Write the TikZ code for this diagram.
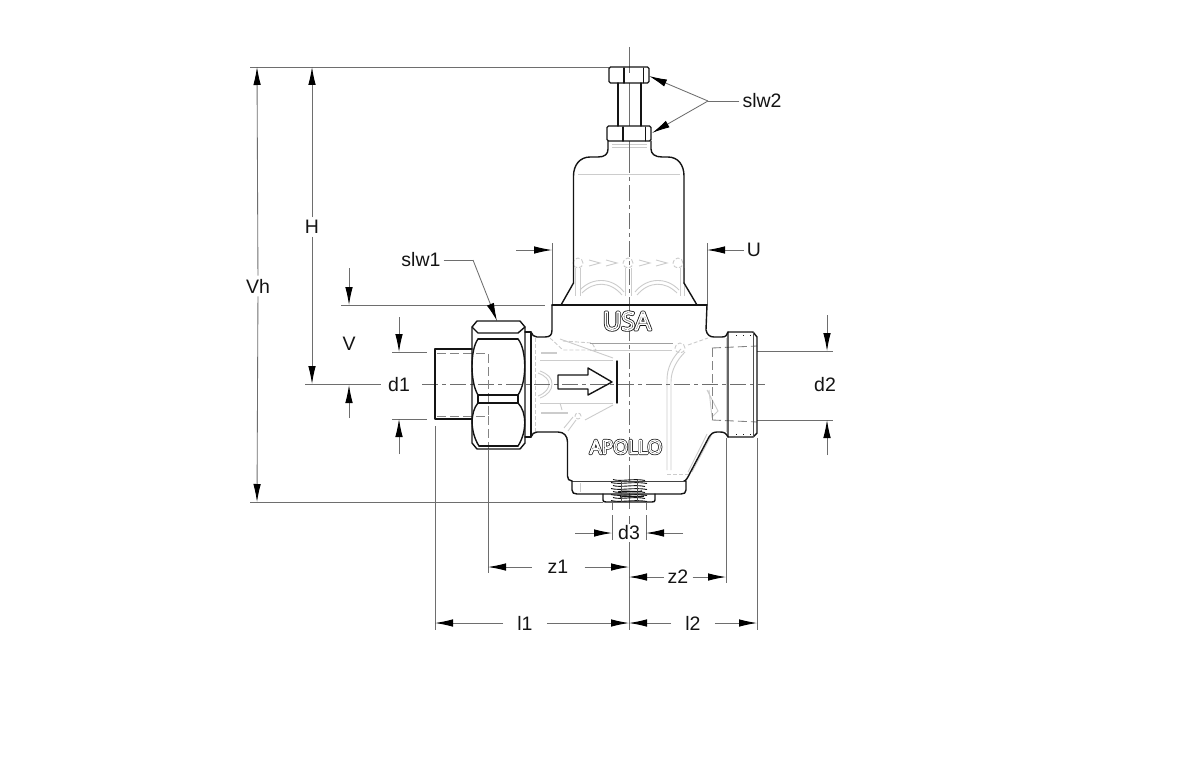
\documentclass[tikz,border=0pt]{standalone}
\usepackage{fontspec}
\setmainfont{Liberation Sans}
\newfontfamily\embfont{Open Sans}
\usetikzlibrary{arrows.meta}
\definecolor{dimc}{HTML}{6E6E6E}
\definecolor{embc}{HTML}{CCCCCC}
\definecolor{embdark}{HTML}{A0A0A0}
\definecolor{inkc}{HTML}{141414}
\newcommand{\outlinetext}[3]{\special{pdf:code q #1 w 1 Tr 1 j}\textcolor{#2}{#3}\special{pdf:code Q}}
\tikzset{
  x=1pt,y=-1pt,
  every node/.style={font=\fontsize{19.5}{22}\selectfont,text=inkc,inner sep=3pt},
  ink/.style={draw=inkc,line width=1.4pt,line join=round,line cap=round},
  thin ink/.style={draw=inkc!75,line width=.8pt},
  ext/.style={draw=dimc,line width=.85pt},
  dimarrow/.style={draw=dimc,line width=.85pt,-{Latex[length=18pt,width=7.5pt,color=black]}},
  center line/.style={draw=dimc,line width=.9pt,dash pattern=on 16pt off 4pt on 4pt off 4pt},
  hidden line/.style={draw=dimc!85,line width=.85pt,dash pattern=on 9pt off 4pt},
  emb/.style={draw=embc,line width=.9pt},
  embd/.style={draw=embc,line width=.9pt,dash pattern=on 4pt off 2pt},
  thread/.style={draw=inkc,line width=.9pt},
}
\begin{document}
\begin{tikzpicture}
\useasboundingbox (0,0) rectangle (1200,776);
\fill[white] (0,0) rectangle (1200,776);

% ---------- embossed grey detail
 % bonnet
 \draw[emb] (578,174) -- (680,174);
 \draw[emb] (612,144) -- (647,144) (612,147) -- (647,147);
 \foreach \cx in {578,628,678}{\draw[embd] (\cx,263) circle (5pt);}
 \foreach \a/\b in {589/600,606/617,639/650,656/667}{
   \draw[emb] (\a,260) -- (\b,263) -- (\a,266);}
 \draw[emb] (580,290) .. controls (592,277) and (612,277) .. (624,292);
 \draw[emb] (582,293) .. controls (594,281) and (610,281) .. (622,295);
 \draw[emb] (635,292) .. controls (647,277) and (667,277) .. (679,290);
 \draw[emb] (637,295) .. controls (649,281) and (665,281) .. (677,293);
 \foreach \vx in {575.5,580,625,631,680,684}{\draw[emb] (\vx,268) -- (\vx,296);}
 % body, left part
 \draw[embd] (535,338) -- (535,432);
 \draw[emb] (560,339) -- (613,358);
 \draw[embd] (550,338) -- (563,350) -- (596,350) -- (592,343) -- (563,341);
 \draw[emb,line width=2pt] (541,353) -- (557,353);
 \draw[emb] (540,360) -- (613,360);
 \draw[emb] (540,371) .. controls (548,374) and (552,378) .. (552,384) .. controls (552,390) and (548,395) .. (540,398);
 \draw[emb] (538,373) .. controls (546,376) and (549,380) .. (549,384) .. controls (549,388) and (546,393) .. (538,396);
 \draw[emb] (540,403) -- (613,403);
 \draw[emb,line width=2pt] (541,413) -- (568,413);
 \draw[emb] (560,403) -- (562,410);
 \draw[emb] (613,405) -- (585,420);
 \draw[embd] (578,416) circle (3pt);
 \draw[emb] (573,417) -- (564,428) (576,420) -- (568,431);
 % body, right part
 \draw[draw=embdark,line width=.9pt] (590,343) -- (673,343);
 \draw[emb] (590,350) -- (672,350);
 \draw[emb] (681,349) .. controls (672,358) and (667,368) .. (667,380) -- (667,470);
 \draw[emb] (685,352) .. controls (677,360) and (671,370) .. (671,382) -- (671,470);
 \draw[embd] (680,348) circle (5pt);
 \draw[embd] (688,345) -- (708,338);
 \draw[emb] (707,390) -- (718,411) -- (712,417) -- (709,390);
 \draw[emb] (707,434) -- (688,472) (711,436) -- (692,472);
 \draw[embd] (667,474) -- (688,474);
 \draw[emb] (580,483) -- (580,492);
 \draw[emb] (726,338) -- (726,432);
 % dots on the right collar
 \foreach \dx in {736,743,750}{
   \draw[inkc,line width=.8pt] (\dx,335) -- ++(1.2,0);
   \draw[inkc,line width=.8pt] (\dx,434) -- ++(1.2,0);}

% ---------- labels whose lines stop at them
\node (d1) at (399,385) {d1};

% ---------- extension and centre lines
\coordinate (clTop) at (629,47);
\coordinate (clB1) at (629,157);
\coordinate (clB2) at (629,510);
\coordinate (clB3) at (629,516);
\coordinate (clEnd) at (629,630);
\draw[ext] (clTop) -- (629,73) (629,83) -- (629,126);
\draw[ext] (629,141) -- (clB1);
\draw[center line] (clB1) -- (clB2);
\draw[ext] (clB3) -- (629,524) (629,542) -- (clEnd);

\coordinate (hcA) at (305,384);
\coordinate (hcA2) at (381,384);
\coordinate (hcB) at (422,384);
\coordinate (hcC) at (765,384);
\draw[ext] (hcA) -- (hcA2);
\draw[center line] (hcB) -- (hcC);

\draw[ext] (250,67) -- (609,67);
\draw[ext] (250,502) -- (603,502);
\draw[ext] (341,305) -- (545,305);
\draw[ext] (392,352) -- (427,352);
\draw[ext] (392,419) -- (427,419);
\draw[ext] (757,351) -- (833,351);
\draw[ext] (757,420) -- (833,420);
\draw[ext] (552,243) -- (552,305);
\draw[ext] (707,243) -- (707,305);
\draw[ext] (612,503) -- (612,510) (612,515) -- (612,540);
\draw[ext] (646,503) -- (646,510) (646,515) -- (646,540);
\draw[ext] (488,450) -- (488,573);
\draw[ext] (726,438) -- (726,583);
\draw[ext] (435,426) -- (435,630);
\draw[ext] (757,438) -- (757,630);

% ---------- valve outline
\draw[hidden line] (437,353) -- (488,353) -- (488,416) -- (437,416);
\draw[hidden line] (488,416) -- (488,449);
\draw[hidden line] (712,348) -- (757,346);
\draw[hidden line] (712,420) -- (757,422);
\draw[hidden line] (712,348) -- (712,420);
% stem and nuts
\draw[ink,rounded corners=1.5pt] (609,67) -- (649,67) -- (649,83) -- (609,83) -- cycle;
\draw[ink] (624,68) -- (624,83);
\draw[ink,line width=1pt] (643,68) -- (643,83);
\draw[ink] (618,83) -- (618,126) (641,83) -- (641,126);
\draw[ink,rounded corners=1.5pt] (607,126) -- (651,126) -- (651,141) -- (607,141) -- cycle;
\draw[ink] (623,127) -- (623,141);
\draw[ink,line width=1pt] (645,127) -- (645,141);
% bonnet
\draw[ink] (608,141) -- (608,149) .. controls (608,154) and (605,157) .. (598,157)
  -- (590,157) .. controls (580,157) and (573.5,165) .. (573.5,176) -- (573.5,283);
\draw[ink] (651,141) -- (651,149) .. controls (651,154) and (655,157) .. (662,157)
  -- (668,157) .. controls (678,157) and (684,165) .. (684,176) -- (684,283);
\draw[ink] (573.5,283) -- (561,305);
\draw[ink] (684,283) -- (697,305);
\draw[ink] (552,305) -- (707,305);
% body
\draw[ink] (552,305) -- (552,330) .. controls (552,335) and (550,337) .. (545,337) -- (537,337)
   .. controls (534,337) and (532,335) .. (531,332);
\draw[ink] (707,305) -- (706,330) .. controls (707,335) and (710,337) .. (714,337) -- (722,337)
   .. controls (726,337) and (727,335) .. (728,332);
\draw[ink] (531,437) .. controls (532,434) and (534,432) .. (537,432) -- (558,432)
   .. controls (564,432) and (567.5,436) .. (567.5,442) -- (567.5,476) .. controls (567.5,479) and (569,481) .. (572,481);
\draw[ink] (728,437) .. controls (726,433) and (724,432) .. (720,432) -- (717,432)
   .. controls (713,432) and (711,434) .. (709,437) -- (690,473) .. controls (688,477) and (686,481) .. (684,481);
\draw[draw=inkc!80,line width=1pt] (572,481) -- (686,481);
% right collar
\draw[ink] (728,332) -- (753,332) -- (757,337) -- (757,433) -- (753,437) -- (728,437) -- cycle;
\draw[thin ink] (753,332) -- (753,437);
% left pipe
\draw[ink] (472,349) -- (435,349) -- (435,419) -- (472,419);
% union nut
\draw[ink] (472,327) -- (477,321) -- (520,321) -- (525,327) -- (525,443) -- (520,449) -- (477,449) -- (472,443) -- cycle;
\draw[ink] (472,327) -- (478,333) -- (518,333) -- (525,327);
\draw[ink] (478,339) -- (518,339);
\draw[ink] (478,395) -- (518,395) (478,403) -- (518,403);
\draw[ink] (478,395) -- (478,403) (518,395) -- (518,403);
\draw[ink] (478,339) .. controls (470,350) and (470,382) .. (478,395);
\draw[ink] (518,339) .. controls (527,350) and (527,382) .. (518,395);
\draw[ink] (478,403) .. controls (470,412) and (470,432) .. (479,446);
\draw[ink] (518,403) .. controls (527,412) and (527,432) .. (518,446);
\draw[ink] (479,446) -- (518,446);
% left flange
\draw[ink] (525,332) -- (531,332) -- (531,437) -- (525,437);
% bottom cup and plug
\draw[ink] (572,481) -- (572,490) .. controls (572,493) and (574,494) .. (577,494) -- (681,494) .. controls (684,494) and (686,493) .. (686,490) -- (686,481);
\draw[ink] (603,494) -- (603,500) .. controls (603,501.5) and (604,502) .. (606,502) -- (652,502) .. controls (654,502) and (655,501.5) .. (655,500) -- (655,494);
% threads
\fill[white] (613,482) rectangle (645,493.2);
\foreach \ty/\ta/\tb in {479.5/613/645,482.5/611/647,485.5/613/645,488.5/611/647,491.5/613/645,494.5/611/647,497.5/613/645,500.5/611/647}{
  \draw[thread] (\ta,\ty) .. controls (620,\ty+2.5) and (634,\ty-1.5) .. (\tb,\ty+1);}
\draw[thread,line width=1.4pt] (618,492) .. controls (626,490) and (636,493) .. (642,491);
\draw[thread,line width=1.4pt] (620,497) .. controls (628,495) and (636,498) .. (644,496);
\draw[thin ink] (621,480) -- (621,502) (637,480) -- (637,502);
% arrow and bar
\draw[ink] (558,375) -- (588,375) -- (588,368) -- (612,382) -- (588,395) -- (588,389) -- (558,389) -- cycle;
\draw[ink] (617,361) -- (617,403);

% embossed words
\node[inner sep=0pt] (usaOuter) at (627,321) {\embfont\fontsize{25}{25}\selectfont\outlinetext{3}{inkc}{USA}};
\node[inner sep=0pt] (usaInner) at (627,321) {\embfont\fontsize{25}{25}\selectfont\outlinetext{1.4}{white}{USA}};
\node[inner sep=0pt] (apoOuter) at (626,447) {\embfont\fontsize{19}{19}\selectfont\outlinetext{2.5}{inkc}{APOLLO}};
\node[inner sep=0pt] (apoInner) at (626,447) {\embfont\fontsize{19}{19}\selectfont\outlinetext{1.1}{white}{APOLLO}};

% ---------- dimensions
\node (Vh) at (258,286) {Vh};
\coordinate (VhT) at (257,67);
\coordinate (VhB) at (257,502);
\draw[dimarrow] (Vh) -- (VhT);
\draw[dimarrow] (Vh) -- (VhB);

\node (H) at (312,227) {H};
\coordinate (HT) at (312,67);
\coordinate (HB) at (312,384);
\draw[dimarrow] (H) -- (HT);
\draw[dimarrow] (H) -- (HB);

\node (V) at (349,344) {V};
\coordinate (VaS) at (349,268);
\coordinate (VaE) at (349,305);
\coordinate (VbS) at (349,418);
\coordinate (VbE) at (349,385);
\draw[dimarrow] (VaS) -- (VaE);
\draw[dimarrow] (VbS) -- (VbE);

\coordinate (d1aS) at (399,317);
\coordinate (d1aE) at (399,352);
\coordinate (d1bS) at (399,454);
\coordinate (d1bE) at (399,419);
\draw[dimarrow] (d1aS) -- (d1aE);
\draw[dimarrow] (d1bS) -- (d1bE);

\node (d2) at (825,385) {d2};
\coordinate (d2aS) at (827,315);
\coordinate (d2aE) at (827,351);
\coordinate (d2bS) at (827,455);
\coordinate (d2bE) at (827,420);
\draw[dimarrow] (d2aS) -- (d2aE);
\draw[dimarrow] (d2bS) -- (d2bE);

\node (U) at (754,250) {U};
\coordinate (UaS) at (516,250);
\coordinate (UaE) at (552,250);
\coordinate (UbE) at (707,250);
\draw[dimarrow] (UaS) -- (UaE);
\draw[dimarrow] (U) -- (UbE);

\node (slwtwo) at (762,101) {slw2};
\coordinate (slwApex) at (708,101);
\coordinate (slwNutA) at (649,76);
\coordinate (slwNutB) at (652,133);
\draw[ext] (slwtwo) -- (slwApex);
\draw[dimarrow] (slwApex) -- (slwNutA);
\draw[dimarrow] (slwApex) -- (slwNutB);

\node (slwone) at (421,260) {slw1};
\coordinate (slwBend) at (473,260);
\coordinate (slwNutC) at (497,321);
\draw[ext] (slwone) -- (slwBend);
\draw[dimarrow] (slwBend) -- (slwNutC);

\node (d3) at (629,533) {d3};
\coordinate (d3aS) at (575,533);
\coordinate (d3aE) at (612,533);
\coordinate (d3bS) at (683,533);
\coordinate (d3bE) at (646,533);
\draw[dimarrow] (d3aS) -- (d3aE);
\draw[dimarrow] (d3bS) -- (d3bE);

\node[inner xsep=16pt] (z1) at (558,567) {z1};
\coordinate (z1L) at (488,567);
\coordinate (z1R) at (629,567);
\draw[dimarrow] (z1) -- (z1L);
\draw[dimarrow] (z1) -- (z1R);

\node[inner xsep=4pt] (z2) at (678,577) {z2};
\coordinate (z2L) at (629,577);
\coordinate (z2R) at (726,577);
\draw[dimarrow] (z2) -- (z2L);
\draw[dimarrow] (z2) -- (z2R);

\node[inner xsep=14pt] (l1) at (525,623) {l1};
\coordinate (l1L) at (435,623);
\coordinate (l1R) at (629,623);
\draw[dimarrow] (l1) -- (l1L);
\draw[dimarrow] (l1) -- (l1R);

\node[inner xsep=14pt] (l2) at (693,623) {l2};
\coordinate (l2L) at (629,623);
\coordinate (l2R) at (757,623);
\draw[dimarrow] (l2) -- (l2L);
\draw[dimarrow] (l2) -- (l2R);
\end{tikzpicture}
\end{document}
